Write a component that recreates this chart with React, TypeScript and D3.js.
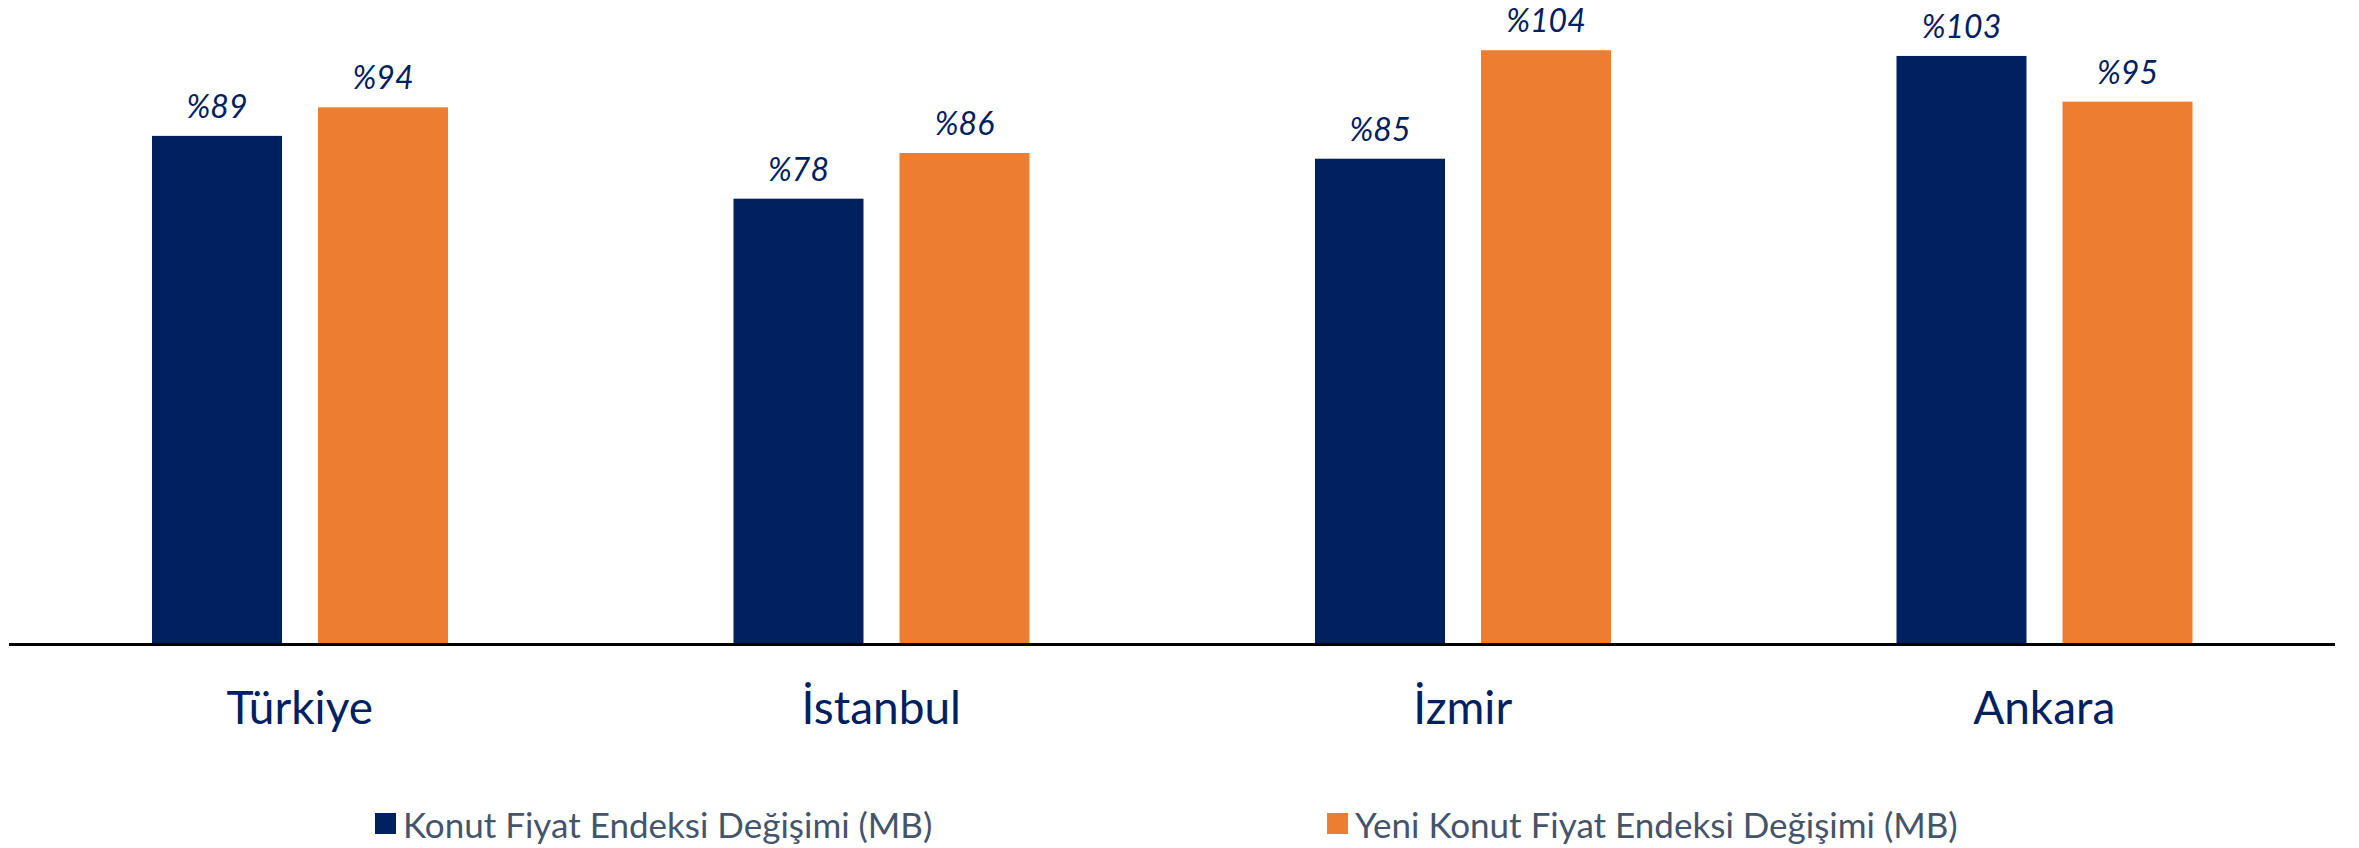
import React from "react";
import * as d3 from "d3";

// kategoriler ve seriler
const cities = ["Türkiye", "İstanbul", "İzmir", "Ankara"];
const seriesNames = [
  "Konut Fiyat Endeksi Değişimi (MB)",
  "Yeni Konut Fiyat Endeksi Değişimi (MB)",
];
const konutValues = [89, 78, 85, 103];
const yeniKonutValues = [94, 86, 104, 95];
const colors = ["#002060", "#ED7D31"];

const width = 2359;
const height = 848;
const baseY = 644;
const font = "Lato, 'Open Sans', sans-serif";

export default function App() {
  const x = d3.scaleBand().domain(cities).range([9, 2335]).padding(0);
  const inner = d3
    .scaleBand()
    .domain(seriesNames)
    .range([143, 143 + 296])
    .paddingInner(0.217);
  const y = d3.scaleLinear().domain([0, 112.8]).range([baseY, 0]);

  const rows = cities.map((c, i) => ({
    city: c,
    values: [konutValues[i], yeniKonutValues[i]],
  }));

  return (
    <svg
      width={width}
      height={height}
      style={{ position: "absolute", left: 0, top: 0, background: "#fff" }}
    >
      {rows.map((r) => (
        <g key={r.city} transform={`translate(${x(r.city)},0)`}>
          {r.values.map((v, j) => (
            <g key={j}>
              <rect
                x={inner(seriesNames[j])}
                y={y(v)}
                width={inner.bandwidth()}
                height={baseY - y(v)}
                fill={colors[j]}
              />
              <text
                x={(inner(seriesNames[j]) as number) + inner.bandwidth() / 2}
                y={y(v) - 18}
                textAnchor="middle"
                fontFamily={font}
                fontStyle="italic"
                fontSize={32}
                fill="#002060"
              >
                %{v}
              </text>
            </g>
          ))}
          <text
            x={x.bandwidth() / 2}
            y={724}
            textAnchor="middle"
            fontFamily={font}
            fontSize={46}
            fill="#002060"
          >
            {r.city}
          </text>
        </g>
      ))}

      {/* eksen çizgisi */}
      <line x1={9} x2={2335} y1={baseY + 0.5} y2={baseY + 0.5} stroke="#000" strokeWidth={3} />

      {/* lejant */}
      {seriesNames.map((s, j) => {
        const lx = j === 0 ? 375 : 1327;
        return (
          <g key={s} transform={`translate(${lx},813)`}>
            <rect width={21} height={21} fill={colors[j]} />
            <text x={28} y={25} fontFamily={font} fontSize={35} fill="#44546A">
              {s}
            </text>
          </g>
        );
      })}
    </svg>
  );
}
